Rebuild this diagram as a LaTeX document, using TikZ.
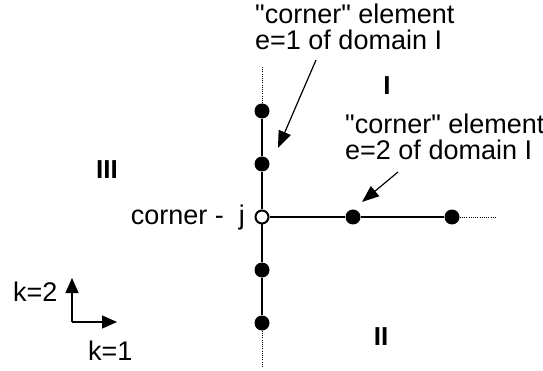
\documentclass[tikz,border=0pt]{standalone}
\usepackage{fontspec}
\setmainfont{Liberation Sans}[Ligatures=TeXOff]
\usetikzlibrary{arrows.meta}
\tikzset{
  dot/.style={circle,fill=black,inner sep=0pt,minimum size=15pt},
  hole/.style={circle,draw,line width=2pt,fill=white,inner sep=0pt,minimum size=13pt},
  edge line/.style={line width=2.7pt},
  dots/.style={line width=0.8pt,dash pattern=on 1pt off 1.2pt},
  pointer/.style={line width=1.2pt,-{Triangle[length=17pt,width=13pt]}},
  axis/.style={line width=1.2pt,-{Triangle[length=15pt,width=13pt]}},
  txt/.style={font=\fontsize{27}{26}\selectfont,inner sep=0pt},
  region/.style={font=\fontsize{26}{24}\selectfont\bfseries,inner sep=0pt},
}
\begin{document}
\begin{tikzpicture}[x=1pt,y=-1pt]
\useasboundingbox (0,0) rectangle (543,371);
% points on the vertical line
\node[dot] (v1) at (262,111) {};
\node[dot] (v2) at (262,164) {};
\node[hole] (j) at (262,217) {};
\node[dot] (v4) at (262,270) {};
\node[dot] (v5) at (262,323) {};
% points on the horizontal line
\node[dot] (h1) at (353,217) {};
\node[dot] (h2) at (452,217) {};
\coordinate (vtop) at (262,67);
\coordinate (vbot) at (262,368);
\coordinate (hend) at (497,217);
\draw[edge line] (v1) -- (v2) -- (j) -- (v4) -- (v5);
\draw[edge line] (j) -- (h1) -- (h2);
\draw[dots] (v1) -- (vtop);
\draw[dots] (v5) -- (vbot);
\draw[dots] (h2) -- (hend);
% labels
\node[txt,anchor=north west,align=left] (e1) at (255,4) {"corner" element\\e=1 of domain I};
\node[txt,anchor=north west,align=left] (e2) at (345,114) {"corner" element\\e=2 of domain I};
\node[txt,anchor=base east] (cj) at (245,225) {corner -~ j};
\coordinate (s1) at (316,60);
\coordinate (t1) at (278,148);
\coordinate (s2) at (398,172);
\coordinate (t2) at (362,202);
\draw[pointer] (s1) -- (t1);
\draw[pointer] (s2) -- (t2);
% domains
\node[region] (dI) at (387,86) {I};
\node[region] (dII) at (381,337) {II};
\node[region] (dIII) at (107,170) {III};
% directions
\coordinate (o) at (72,322);
\coordinate (kx) at (117,322);
\coordinate (ky) at (72,278);
\draw[axis] (o) -- (kx);
\draw[axis] (o) -- (ky);
\node[txt,anchor=base west] (k2) at (13,301) {k=2};
\node[txt,anchor=base west] (k1) at (88,360) {k=1};
\end{tikzpicture}
\end{document}
